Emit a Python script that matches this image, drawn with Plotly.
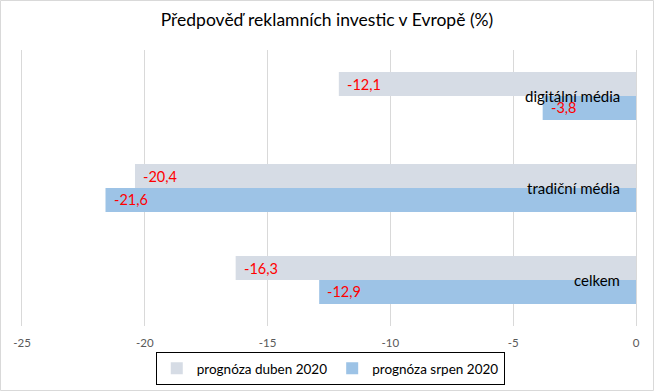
import plotly.graph_objects as go

categories = ["digitální média", "tradiční média", "celkem"]
duben = [-12.1, -20.4, -16.3]
srpen = [-3.8, -21.6, -12.9]
series_names = ["prognóza duben 2020", "prognóza srpen 2020"]
x_ticks = [-25, -20, -15, -10, -5, 0]

W, H = 654, 391
ml, mr, mt, mb = 22, 18, 50, 65
pw, ph = W - ml - mr, H - mt - mb

FONT = "Lato, Open Sans, sans-serif"

fig = go.Figure()
fig.add_trace(go.Bar(y=categories, x=duben, orientation="h", name=series_names[0],
                     marker=dict(color="#d6dce5", line=dict(width=0))))
fig.add_trace(go.Bar(y=categories, x=srpen, orientation="h", name=series_names[1],
                     marker=dict(color="#9dc3e6", line=dict(width=0))))

annotations = []
# data labels (inside base/left end of bar)
for vals, off in ((duben, -0.13), (srpen, 0.13)):
    for i, v in enumerate(vals):
        annotations.append(dict(
            x=v, y=i + off, xref="x", yref="y", xanchor="left", yanchor="middle",
            xshift=6, showarrow=False,
            text=("%.1f" % v).replace(".", ","),
            font=dict(color="#ff0000", size=14.5, family=FONT)))
# category labels next to the axis at 0
for i, c in enumerate(categories):
    annotations.append(dict(
        x=0, y=i, xref="x", yref="y", xanchor="right", yanchor="middle",
        xshift=-14, yshift=0, showarrow=False, text=c,
        font=dict(color="#000000", size=15, family=FONT)))

fig.update_layout(
    width=W, height=H,
    margin=dict(l=ml, r=mr, t=mt, b=mb, pad=0, autoexpand=False),
    paper_bgcolor="white", plot_bgcolor="white",
    barmode="group", bargap=0.48, bargroupgap=0,
    separators=", ",
    title=dict(text="Předpověď reklamních investic v Evropě (%)",
               x=0.5, xanchor="center", y=1 - 20 / H, yanchor="middle",
               font=dict(size=17.5, color="#000000", family=FONT)),
    xaxis=dict(range=[-25, 0], tickvals=x_ticks, ticktext=[str(t) for t in x_ticks],
               showgrid=True, gridcolor="#d9d9d9", gridwidth=1,
               zeroline=True, zerolinecolor="#d9d9d9", zerolinewidth=1,
               showline=False, ticks="", ticklabelstandoff=8,
               tickfont=dict(size=11.5, color="#595959", family=FONT)),
    yaxis=dict(type="category", categoryorder="array", categoryarray=categories,
               autorange="reversed", showticklabels=False, showgrid=False,
               zeroline=False, showline=True, mirror=True, linecolor="#d9d9d9",
               linewidth=1, ticks=""),
    legend=dict(orientation="h", x=0.505, xanchor="center", xref="container",
                y=1 - 352 / H, yanchor="top", yref="container",
                bordercolor="#000000", borderwidth=1,
                font=dict(size=13.5, color="#000000", family=FONT),
                itemwidth=30, traceorder="normal", tracegroupgap=0),
    annotations=annotations,
    shapes=[dict(type="rect", xref="paper", yref="paper",
                 x0=-(ml - 0.5) / pw, x1=1 + (mr - 0.5) / pw,
                 y0=-(mb - 0.5) / ph, y1=1 + (mt - 0.5) / ph,
                 line=dict(color="#d9d9d9", width=1))],
)

fig.write_html("out.html", config={"displayModeBar": False},
               post_script="document.body.style.margin='0';document.body.style.padding='0';")
